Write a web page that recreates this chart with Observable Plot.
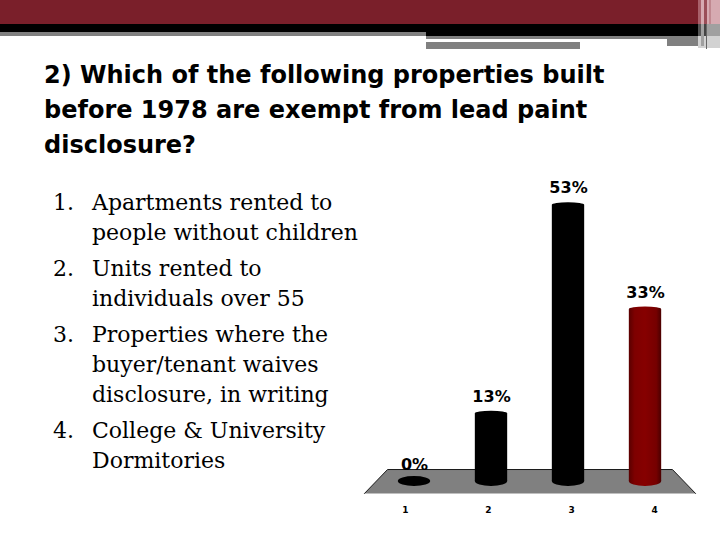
<!DOCTYPE html>
<html>
<head>
<meta charset="utf-8">
<script src="https://cdn.jsdelivr.net/npm/d3@7"></script>
<script src="https://cdn.jsdelivr.net/npm/@observablehq/plot@0.6"></script>
<style>
  html, body { margin: 0; padding: 0; background: #fff; }
  #page { position: relative; width: 720px; height: 540px; overflow: hidden; background: #fff; }
  .blk { position: absolute; }
  #title { position: absolute; left: 44px; top: 58px; font-family: "DejaVu Sans", sans-serif; font-weight: bold;
           font-size: 24px; line-height: 35px; color: #000; white-space: nowrap; }
  #list { position: absolute; left: 0; top: 188px; font-family: "DejaVu Serif", serif; font-size: 22px;
          line-height: 30px; color: #000; }
  .item { position: relative; margin-bottom: 6px; white-space: nowrap; }
  .num { position: absolute; left: 53px; top: 0; }
  .txt { margin-left: 92px; }
  #chart { position: absolute; left: 350px; top: 160px; }
</style>
</head>
<body>
<div id="page">
  <div class="blk" style="left:0;top:0;width:698px;height:24px;background:#7a1f2a"></div>
  <div class="blk" style="left:0;top:24px;width:698px;height:12px;background:#000"></div>
  <div class="blk" style="left:0;top:32px;width:426px;height:4px;background:#808080"></div>
  <div class="blk" style="left:426px;top:36px;width:241px;height:3px;background:#808080"></div>
  <div class="blk" style="left:667px;top:36px;width:31px;height:10px;background:#808080"></div>
  <div class="blk" style="left:426px;top:42px;width:154px;height:7px;background:#808080"></div>
  <div class="blk" style="left:698px;top:0;width:22px;height:24px;background:#d6aab1"></div>
  <div class="blk" style="left:698px;top:0;width:3px;height:24px;background:#a8606a"></div>
  <div class="blk" style="left:704px;top:0;width:3px;height:24px;background:#9a4e58"></div>
  <div class="blk" style="left:709px;top:0;width:2px;height:24px;background:#c08890"></div>
  <div class="blk" style="left:698px;top:24px;width:22px;height:12px;background:#a0a0a0"></div>
  <div class="blk" style="left:698px;top:24px;width:3px;height:12px;background:#555"></div>
  <div class="blk" style="left:704px;top:24px;width:3px;height:12px;background:#444"></div>
  <div class="blk" style="left:698px;top:36px;width:22px;height:12px;background:#d2d2d2"></div>
  <div class="blk" style="left:701px;top:36px;width:3px;height:10px;background:#a0a0a0"></div>
  <div class="blk" style="left:706px;top:24px;width:1px;height:25px;background:#666"></div>

  <div id="title">2) Which of the following properties built<br>before 1978 are exempt from lead paint<br>disclosure?</div>
  <div id="list"></div>
  <div id="chart"></div>
  <svg width="0" height="0" style="position:absolute">
    <defs>
      <linearGradient id="redGrad" x1="0" x2="1" y1="0" y2="0">
        <stop offset="0%" stop-color="#5a0000"/>
        <stop offset="18%" stop-color="#7e0000"/>
        <stop offset="50%" stop-color="#860000"/>
        <stop offset="85%" stop-color="#760000"/>
        <stop offset="100%" stop-color="#4a0000"/>
      </linearGradient>
    </defs>
  </svg>
</div>
<script>
// ---- data ----
const categories = ["1", "2", "3", "4"];
const values = [0, 13, 53, 33];
const valueLabels = ["0%", "13%", "53%", "33%"];
const answers = [
  ["Apartments rented to", "people without children"],
  ["Units rented to", "individuals over 55"],
  ["Properties where the", "buyer/tenant waives", "disclosure, in writing"],
  ["College & University", "Dormitories"]
];

// ---- list ----
const list = document.getElementById("list");
answers.forEach((lines, i) => {
  const item = document.createElement("div");
  item.className = "item";
  const num = document.createElement("span");
  num.className = "num";
  num.textContent = (i + 1) + ".";
  const txt = document.createElement("div");
  txt.className = "txt";
  txt.innerHTML = lines.map(l => l.replace(/&/g, "&amp;")).join("<br>");
  item.appendChild(num);
  item.appendChild(txt);
  list.appendChild(item);
});

// ---- chart ----
const rows = categories.map((c, i) => ({cat: c, idx: i + 1, value: values[i], label: valueLabels[i]}));
const n = categories.length;
const mid = (n + 1) / 2;
const halfW = 0.21;           // half bar width in band units
const floorDepth = 2.3;       // floor half-depth in value units
const skew = 0.15;
const floor = [
  {x: mid - (n / 2 + skew), y: -floorDepth},
  {x: mid - (n / 2 - skew), y: floorDepth},
  {x: mid + (n / 2 - skew), y: floorDepth},
  {x: mid + (n / 2 + skew), y: -floorDepth}
];
const perspective = 0.078;

const chart = Plot.plot({
  width: 370,
  height: 380,
  margin: 0,
  x: {type: "linear", domain: [1, 4], range: [64, 295], axis: null},
  y: {domain: [0, 60], range: [321, 8.4], axis: null},
  color: {type: "ordinal", domain: categories, range: ["#000", "#000", "#000", "url(#redGrad)"]},
  marks: [
    Plot.line(floor, {x: "x", y: "y", curve: "linear-closed", fill: "#808080", stroke: "none"}),
    Plot.line(floor, {x: "x", y: "y", stroke: "#1a1a1a", strokeWidth: 1}),
    // bottom caps
    Plot.rect(rows, {x1: d => d.idx - halfW, x2: d => d.idx + halfW, y1: 0, y2: 0,
      insetTop: -5, insetBottom: -5, rx: 16, ry: 5, fill: "cat"}),
    // bodies
    Plot.rect(rows.filter(d => d.value > 0), {x1: d => d.idx - halfW, x2: d => d.idx + halfW,
      y1: 0, y2: "value", fill: "cat"}),
    // top caps
    Plot.rect(rows.filter(d => d.value > 0), {x1: d => d.idx - halfW, x2: d => d.idx + halfW,
      y1: "value", y2: "value", insetTop: -2.5, insetBottom: -2.5, rx: 16, ry: 2.5, fill: "cat"}),
    // value labels
    Plot.text(rows, {x: "idx", y: "value", text: "label", lineAnchor: "bottom", dy: -12,
      fontFamily: "DejaVu Sans", fontWeight: "bold", fontSize: 16, fill: "#000"}),
    // category labels
    Plot.text(rows, {x: d => d.idx + (d.idx - mid) * perspective, y: 0, text: "cat", lineAnchor: "middle",
      dy: 29, fontFamily: "DejaVu Sans", fontWeight: "bold", fontSize: 9, fill: "#000"})
  ]
});
document.getElementById("chart").appendChild(chart);
</script>
</body>
</html>
